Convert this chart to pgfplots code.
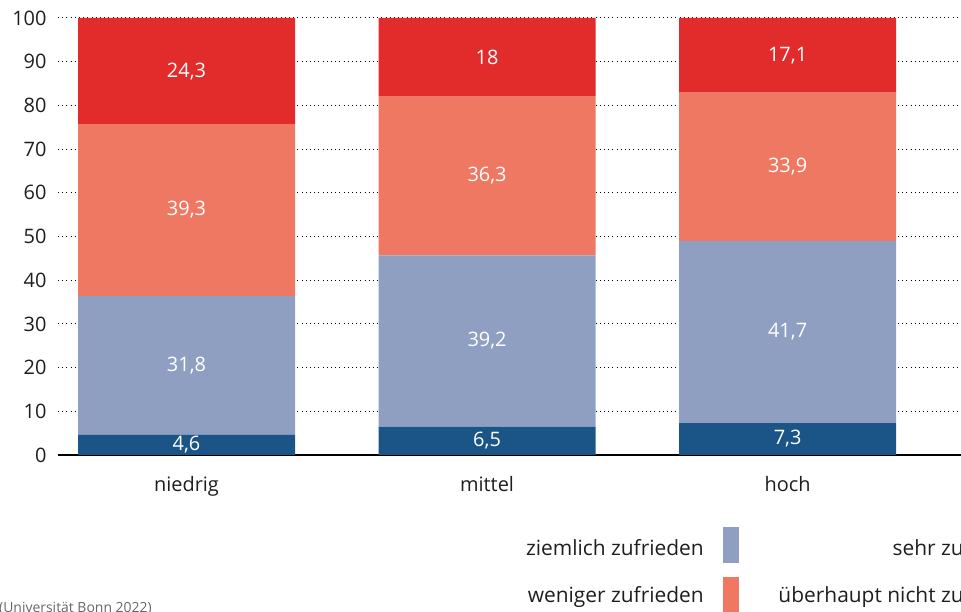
\documentclass[border=0pt]{standalone}
\usepackage{pgfplots}
\usepackage{pgfplotstable}
\pgfplotsset{compat=1.18}
\usepackage{fontspec}
\setmainfont{Open Sans}

\definecolor{sehr}{HTML}{1B5587}
\definecolor{ziemlich}{HTML}{8E9FC1}
\definecolor{weniger}{HTML}{EF7862}
\definecolor{ueberhaupt}{HTML}{E22B2B}
\definecolor{txt}{HTML}{1E1E1E}
\definecolor{quelle}{HTML}{666666}

% shares per education level (percent)
\pgfplotstableread{
x  sehr ziemlich weniger ueberhaupt
0  4.6  31.8     39.3    24.3
1  6.5  39.2     36.3    18
2  7.3  41.7     33.9    17.1
}\zufriedenheit

% vertical middle of every stacked segment, for the value labels
\pgfplotstablecreatecol[create col/expr={\thisrow{sehr}/2}]{msehr}\zufriedenheit
\pgfplotstablecreatecol[create col/expr={\thisrow{sehr}+\thisrow{ziemlich}/2}]{mziemlich}\zufriedenheit
\pgfplotstablecreatecol[create col/expr={\thisrow{sehr}+\thisrow{ziemlich}+\thisrow{weniger}/2}]{mweniger}\zufriedenheit
\pgfplotstablecreatecol[create col/expr={\thisrow{sehr}+\thisrow{ziemlich}+\thisrow{weniger}+\thisrow{ueberhaupt}/2}]{mueberhaupt}\zufriedenheit

\newcommand{\lfont}{\fontsize{20}{24}\selectfont}
\newcommand{\legfont}{\fontsize{21}{25}\selectfont}

\pgfplotsset{
  common frame/.style={
    at={(58bp,157bp)}, anchor=south west,
    scale only axis, width=903bp, height=437bp,
    xmin=-0.4276, xmax=2.577, ymin=0, ymax=100,
    /pgf/number format/assume math mode=true,
    /pgf/number format/use comma,
  },
  value label/.style={draw=none, mark=none, nodes near coords,
    point meta=explicit},
}

\begin{document}
\begin{tikzpicture}[x=1bp,y=1bp]
\useasboundingbox (0,0) rectangle (961,612);
\clip (0,0) rectangle (961,612);
\begin{axis}[
  common frame,
  ybar stacked, bar width=217bp,
  xtick={0,1,2}, xticklabels={niedrig,mittel,hoch},
  ytick={0,10,...,100},
  axis x line*=bottom, axis y line*=left,
  x axis line style={-, line width=2.4bp, black},
  y axis line style={draw=none},
  major tick length=0pt,
  ymajorgrids,
  grid style={black, line width=1bp, dash pattern=on 1bp off 3.2bp},
  ticklabel style={font=\lfont, text=txt},
  yticklabel style={anchor=east, xshift=-8bp},
  xticklabel style={anchor=base, yshift=-37bp},
  every axis plot/.append style={draw=none},
]
\addplot[fill=sehr] table[x=x, y=sehr] {\zufriedenheit};
\addplot[fill=ziemlich] table[x=x, y=ziemlich] {\zufriedenheit};
\addplot[fill=weniger] table[x=x, y=weniger] {\zufriedenheit};
\addplot[fill=ueberhaupt] table[x=x, y=ueberhaupt] {\zufriedenheit};
\end{axis}

% value labels in the middle of each segment
\begin{axis}[
  common frame, hide axis,
  nodes near coords style={font=\lfont, text=white, anchor=center, inner sep=0pt},
]
\addplot[value label] table[x=x, y=msehr, meta=sehr] {\zufriedenheit};
\addplot[value label] table[x=x, y=mziemlich, meta=ziemlich] {\zufriedenheit};
\addplot[value label] table[x=x, y=mweniger, meta=weniger] {\zufriedenheit};
\addplot[value label] table[x=x, y=mueberhaupt, meta=ueberhaupt] {\zufriedenheit};
\end{axis}

% legend: text right-aligned before each swatch
\begin{scope}[every node/.style={font=\legfont, text=txt, inner sep=0pt}]
\node[anchor=base east] at (704,56) {ziemlich zufrieden};
\fill[ziemlich] (723,49) rectangle (739,85);
\node[anchor=base east] at (704,9) {weniger zufrieden};
\fill[weniger] (723,-1) rectangle (739,35);
\node[anchor=base east] at (1034,56) {sehr zufrieden};
\fill[sehr] (1053,49) rectangle (1069,85);
\node[anchor=base east] at (1034,9) {überhaupt nicht zufrieden};
\fill[ueberhaupt] (1053,-1) rectangle (1069,35);
\end{scope}

\node[anchor=base west, inner sep=0pt, font=\fontsize{14}{16}\selectfont, text=quelle]
  at (-1,-1) {(Universität Bonn 2022)};
\end{tikzpicture}
\end{document}
